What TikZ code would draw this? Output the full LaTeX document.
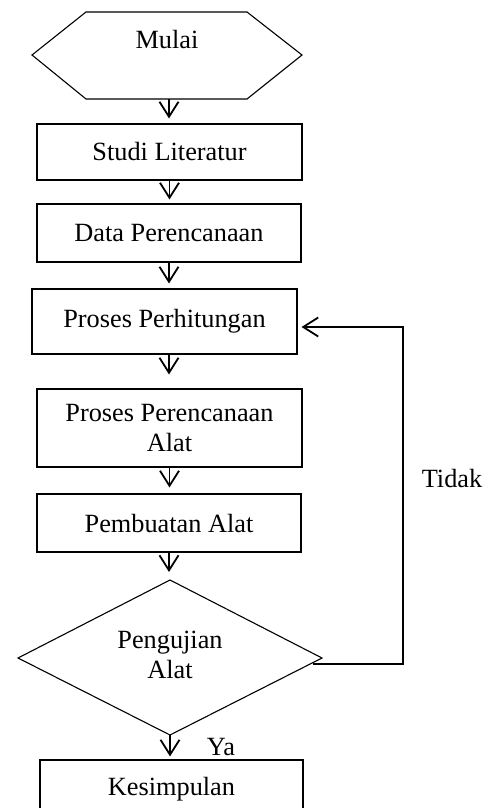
\documentclass[tikz,border=0pt]{standalone}
\usepackage{fontspec}
\setmainfont{Liberation Serif}
\usetikzlibrary{arrows.meta}
\begin{document}
\begin{tikzpicture}[x=1pt,y=-1pt,
  box/.style={draw, line width=1.1pt, inner sep=0pt, align=center, font=\fontsize{26.3}{30}\selectfont},
  lbl/.style={inner sep=0pt, align=center, font=\fontsize{26.3}{30}\selectfont},
  shapeline/.style={draw, line width=1.1pt},
  arr/.style={line width=1.8pt, -{Straight Barb[length=15pt,width=19pt]}}]
\useasboundingbox (0,0) rectangle (500,808);
\clip (0,0) rectangle (500,808);
% Start hexagon
\draw[shapeline] (32,55) -- (86,12) -- (247,12) -- (302,55) -- (247,99) -- (86,99) -- cycle;
\node[lbl] (mulai) at (167,40) {Mulai};
\coordinate (hexb) at (169,99);
% Boxes
\node[box, minimum width=265pt, minimum height=56pt] (studi) at (169.5,152) {Studi Literatur};
\node[box, minimum width=264pt, minimum height=58pt] (data) at (169,233) {Data Perencanaan};
\node[box, minimum width=265pt, minimum height=65pt] (pp) at (164.5,321.5) {Proses Perhitungan};
\node[box, minimum width=265pt, minimum height=78pt] (ppa) at (169.5,428) {Proses Perencanaan\\Alat};
\node[box, minimum width=264pt, minimum height=58pt] (pemb) at (169,523) {Pembuatan Alat};
% Decision diamond
\coordinate (dtop) at (170,580);
\coordinate (dleft) at (18,658);
\coordinate (dright) at (322,658);
\coordinate (dbot) at (170,735);
\draw[shapeline] (dtop) -- (dright) -- (dbot) -- (dleft) -- cycle;
\node[lbl] (uji) at (170,655) {Pengujian\\Alat};
\node[box, minimum width=263pt, minimum height=58pt] (kes) at (171.5,789) {Kesimpulan};
% Arrows
\draw[arr, shorten >=5pt] (hexb) -- (hexb |- studi.north);
\draw[arr, shorten >=4pt] (studi.south) -- (studi.south |- data.north);
\draw[arr, shorten >=5pt] (data.south) -- (data.south |- pp.north);
\draw[arr, shorten >=14pt] (data.south |- pp.south) -- (data.south |- ppa.north);
\draw[arr, shorten >=6pt] (ppa.south) -- (ppa.south |- pemb.north);
\draw[arr, shorten >=8pt] (pemb.south) -- (pemb.south |- dtop);
\draw[arr, shorten >=3pt] (dbot) -- (dbot |- kes.north);
% Loop back
\coordinate (lstart) at (313,664);
\coordinate (lcorner) at (403,664);
\coordinate (ltop) at (403,327);
\draw[arr, shorten >=4pt] (lstart) -- (lcorner) -- (ltop) -- (ltop -| pp.east);
% Labels
\node[lbl] (tidak) at (452,478) {Tidak};
\node[lbl] (ya) at (221,747) {Ya};
\end{tikzpicture}
\end{document}
